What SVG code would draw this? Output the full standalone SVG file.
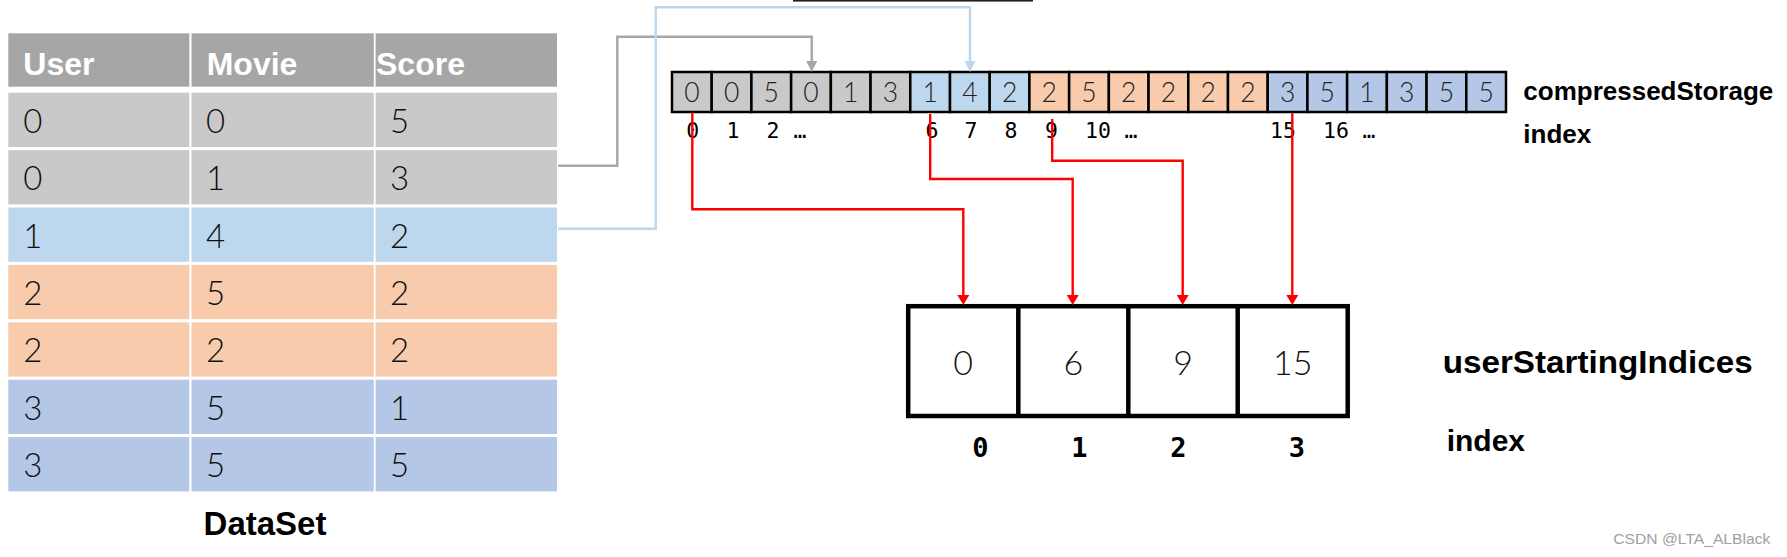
<svg xmlns="http://www.w3.org/2000/svg" width="1787" height="557" viewBox="0 0 1787 557">
<style>
.hdr{fill:#a6a6a6}
.g{fill:#c9c9c9}
.lb{fill:#bdd7ee}
.or{fill:#f8cbad}
.bl{fill:#b4c7e7}
.ht{font-family:"Liberation Sans",Arial,sans-serif;font-weight:bold;font-size:32px;fill:#ffffff}
.dt{font-family:Lato,"Liberation Sans",Arial,sans-serif;font-weight:300;font-size:33px;fill:#111}
.cell{stroke:#000;stroke-width:2.5}
.ct{font-family:Lato,"Liberation Sans",Arial,sans-serif;font-weight:300;font-size:26.5px;fill:#222;text-anchor:middle}
.ix{font-family:"DejaVu Sans Mono","Liberation Mono",monospace;font-size:21.5px;fill:#000;text-anchor:middle}
.bx{font-family:Lato,"Liberation Sans",Arial,sans-serif;font-weight:300;font-size:34px;fill:#111;text-anchor:middle}
.bix{font-family:"DejaVu Sans Mono","Liberation Mono",monospace;font-weight:bold;font-size:27px;fill:#000;text-anchor:middle}
.lbl{font-family:"Liberation Sans",Arial,sans-serif;font-weight:bold;fill:#000}
.conn{fill:none;stroke-width:2.4}
</style>
<defs>
<marker id="ag" markerUnits="userSpaceOnUse" markerWidth="11" markerHeight="11" refX="0" refY="5.5" orient="auto" viewBox="0 0 11 11"><path d="M0,0 L11,5.5 L0,11 z" fill="#a6a6a6"/></marker>
<marker id="ab" markerUnits="userSpaceOnUse" markerWidth="11" markerHeight="11" refX="0" refY="5.5" orient="auto" viewBox="0 0 11 11"><path d="M0,0 L11,5.5 L0,11 z" fill="#bdd7ee"/></marker>
<marker id="ar" markerUnits="userSpaceOnUse" markerWidth="10" markerHeight="12" refX="0" refY="6" orient="auto" viewBox="0 0 10 12"><path d="M0,0 L10,6 L0,12 z" fill="#ff0000"/></marker>
</defs>
<rect width="1787" height="557" fill="#ffffff"/>
<rect x="793" y="0" width="240" height="1.6" fill="#222"/>

<g id="dataset">
<rect class="hdr" x="8.3" y="33.3" width="181" height="53.4"/>
<rect class="hdr" x="191.5" y="33.3" width="182.3" height="53.4"/>
<rect class="hdr" x="375.6" y="33.3" width="181.4" height="53.4"/>
<text class="ht" x="23.3" y="75">User</text>
<text class="ht" x="206.7" y="75">Movie</text>
<text class="ht" x="376" y="75">Score</text>

<rect class="g" x="8.3" y="92.7" width="181" height="54.3"/><rect class="g" x="191.5" y="92.7" width="182.3" height="54.3"/><rect class="g" x="375.6" y="92.7" width="181.4" height="54.3"/>
<rect class="g" x="8.3" y="150.1" width="181" height="54.3"/><rect class="g" x="191.5" y="150.1" width="182.3" height="54.3"/><rect class="g" x="375.6" y="150.1" width="181.4" height="54.3"/>
<rect class="lb" x="8.3" y="207.5" width="181" height="54.3"/><rect class="lb" x="191.5" y="207.5" width="182.3" height="54.3"/><rect class="lb" x="375.6" y="207.5" width="181.4" height="54.3"/>
<rect class="or" x="8.3" y="264.9" width="181" height="54.3"/><rect class="or" x="191.5" y="264.9" width="182.3" height="54.3"/><rect class="or" x="375.6" y="264.9" width="181.4" height="54.3"/>
<rect class="or" x="8.3" y="322.3" width="181" height="54.3"/><rect class="or" x="191.5" y="322.3" width="182.3" height="54.3"/><rect class="or" x="375.6" y="322.3" width="181.4" height="54.3"/>
<rect class="bl" x="8.3" y="379.7" width="181" height="54.3"/><rect class="bl" x="191.5" y="379.7" width="182.3" height="54.3"/><rect class="bl" x="375.6" y="379.7" width="181.4" height="54.3"/>
<rect class="bl" x="8.3" y="437.1" width="181" height="54.3"/><rect class="bl" x="191.5" y="437.1" width="182.3" height="54.3"/><rect class="bl" x="375.6" y="437.1" width="181.4" height="54.3"/>

<text class="dt" x="23.3" y="132.7">0</text><text class="dt" x="206" y="132.7">0</text><text class="dt" x="390" y="132.7">5</text>
<text class="dt" x="23.3" y="190.1">0</text><text class="dt" x="206" y="190.1">1</text><text class="dt" x="390" y="190.1">3</text>
<text class="dt" x="23.3" y="247.5">1</text><text class="dt" x="206" y="247.5">4</text><text class="dt" x="390" y="247.5">2</text>
<text class="dt" x="23.3" y="304.9">2</text><text class="dt" x="206" y="304.9">5</text><text class="dt" x="390" y="304.9">2</text>
<text class="dt" x="23.3" y="362.3">2</text><text class="dt" x="206" y="362.3">2</text><text class="dt" x="390" y="362.3">2</text>
<text class="dt" x="23.3" y="419.7">3</text><text class="dt" x="206" y="419.7">5</text><text class="dt" x="390" y="419.7">1</text>
<text class="dt" x="23.3" y="477.1">3</text><text class="dt" x="206" y="477.1">5</text><text class="dt" x="390" y="477.1">5</text>
<text class="lbl" x="265" y="535" font-size="33" text-anchor="middle">DataSet</text>
</g>

<g id="compressedStorage">
<rect class="cell g" x="672" y="72" width="39.71" height="40"/>
<rect class="cell g" x="711.71" y="72" width="39.71" height="40"/>
<rect class="cell g" x="751.43" y="72" width="39.71" height="40"/>
<rect class="cell g" x="791.14" y="72" width="39.71" height="40"/>
<rect class="cell g" x="830.86" y="72" width="39.71" height="40"/>
<rect class="cell g" x="870.57" y="72" width="39.71" height="40"/>
<rect class="cell lb" x="910.29" y="72" width="39.71" height="40"/>
<rect class="cell lb" x="950" y="72" width="39.71" height="40"/>
<rect class="cell lb" x="989.71" y="72" width="39.71" height="40"/>
<rect class="cell or" x="1029.43" y="72" width="39.71" height="40"/>
<rect class="cell or" x="1069.14" y="72" width="39.71" height="40"/>
<rect class="cell or" x="1108.86" y="72" width="39.71" height="40"/>
<rect class="cell or" x="1148.57" y="72" width="39.71" height="40"/>
<rect class="cell or" x="1188.29" y="72" width="39.71" height="40"/>
<rect class="cell or" x="1228" y="72" width="39.71" height="40"/>
<rect class="cell bl" x="1267.71" y="72" width="39.71" height="40"/>
<rect class="cell bl" x="1307.43" y="72" width="39.71" height="40"/>
<rect class="cell bl" x="1347.14" y="72" width="39.71" height="40"/>
<rect class="cell bl" x="1386.86" y="72" width="39.71" height="40"/>
<rect class="cell bl" x="1426.57" y="72" width="39.71" height="40"/>
<rect class="cell bl" x="1466.29" y="72" width="39.71" height="40"/>
<text class="ct" x="691.86" y="101.5">0</text>
<text class="ct" x="731.57" y="101.5">0</text>
<text class="ct" x="771.29" y="101.5">5</text>
<text class="ct" x="811" y="101.5">0</text>
<text class="ct" x="850.71" y="101.5">1</text>
<text class="ct" x="890.43" y="101.5">3</text>
<text class="ct" x="930.14" y="101.5">1</text>
<text class="ct" x="969.86" y="101.5">4</text>
<text class="ct" x="1009.57" y="101.5">2</text>
<text class="ct" x="1049.29" y="101.5">2</text>
<text class="ct" x="1089" y="101.5">5</text>
<text class="ct" x="1128.71" y="101.5">2</text>
<text class="ct" x="1168.43" y="101.5">2</text>
<text class="ct" x="1208.14" y="101.5">2</text>
<text class="ct" x="1247.86" y="101.5">2</text>
<text class="ct" x="1287.57" y="101.5">3</text>
<text class="ct" x="1327.29" y="101.5">5</text>
<text class="ct" x="1367" y="101.5">1</text>
<text class="ct" x="1406.71" y="101.5">3</text>
<text class="ct" x="1446.43" y="101.5">5</text>
<text class="ct" x="1486.14" y="101.5">5</text>
<text class="ix" x="692.7" y="137.8">0</text>
<text class="ix" x="733" y="137.8">1</text>
<text class="ix" x="773" y="137.8">2</text>
<text class="ix" x="800" y="137.8">…</text>
<text class="ix" x="932" y="137.8">6</text>
<text class="ix" x="971" y="137.8">7</text>
<text class="ix" x="1011" y="137.8">8</text>
<text class="ix" x="1051.6" y="137.8">9</text>
<text class="ix" x="1098" y="137.8">10</text>
<text class="ix" x="1131" y="137.8">…</text>
<text class="ix" x="1283" y="137.8">15</text>
<text class="ix" x="1336" y="137.8">16</text>
<text class="ix" x="1369" y="137.8">…</text>
<text class="lbl" x="1523.3" y="100" font-size="26">compressedStorage</text>
<text class="lbl" x="1523.3" y="143.3" font-size="26">index</text>
</g>

<g id="userStartingIndices">
<rect x="908.2" y="306.2" width="439.5" height="109.8" fill="#fff" stroke="#000" stroke-width="4.5"/>
<line x1="1018.3" y1="306.2" x2="1018.3" y2="416" stroke="#000" stroke-width="4.5"/>
<line x1="1128.3" y1="306.2" x2="1128.3" y2="416" stroke="#000" stroke-width="4.5"/>
<line x1="1237.7" y1="306.2" x2="1237.7" y2="416" stroke="#000" stroke-width="4.5"/>
<text class="bx" x="963.2" y="374.8">0</text>
<text class="bx" x="1073.3" y="374.8">6</text>
<text class="bx" x="1183" y="374.8">9</text>
<text class="bx" x="1292.7" y="374.8">15</text>
<text class="bix" x="980.5" y="456.7">0</text>
<text class="bix" x="1079.5" y="456.7">1</text>
<text class="bix" x="1178.3" y="456.7">2</text>
<text class="bix" x="1297" y="456.7">3</text>
<text class="lbl" x="1442.7" y="373.3" font-size="32" textLength="310" lengthAdjust="spacingAndGlyphs">userStartingIndices</text>
<text class="lbl" x="1446.7" y="450.7" font-size="30">index</text>
</g>

<g id="connectors">
<path class="conn" stroke="#a6a6a6" d="M558.3,165.7 H617.3 V36.7 H811.7 V61" marker-end="url(#ag)"/>
<path class="conn" stroke="#bdd7ee" d="M558.3,228.7 H655.7 V7.3 H970 V61" marker-end="url(#ab)"/>
<path class="conn" stroke="#ff0000" stroke-width="2.6" d="M692.3,112.5 V209.3 H963.3 V295" marker-end="url(#ar)"/>
<path class="conn" stroke="#ff0000" stroke-width="2.6" d="M930.2,114 V179 H1072.7 V295" marker-end="url(#ar)"/>
<path class="conn" stroke="#ff0000" stroke-width="2.6" d="M1052.2,119 V160.7 H1182.7 V295" marker-end="url(#ar)"/>
<path class="conn" stroke="#ff0000" stroke-width="2.6" d="M1292.3,113.3 V295" marker-end="url(#ar)"/>
</g>

<text x="1613.3" y="544.3" font-family="Liberation Sans,Arial,sans-serif" font-size="15.5" fill="#a0a0a0" textLength="157" lengthAdjust="spacingAndGlyphs">CSDN @LTA_ALBlack</text>
</svg>
